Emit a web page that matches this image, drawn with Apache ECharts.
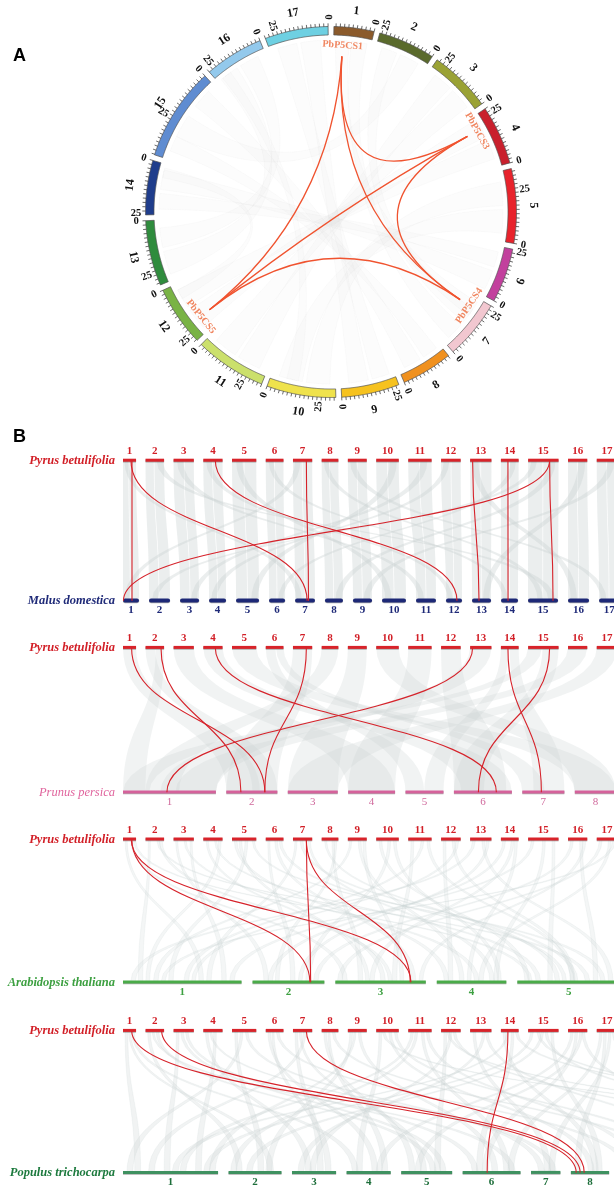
<!DOCTYPE html>
<html>
<head>
<meta charset="utf-8">
<script src="https://cdn.jsdelivr.net/npm/echarts@6/dist/echarts.min.js"></script>
<style>
  html, body { margin: 0; padding: 0; background: #ffffff; }
  #chart { width: 614px; height: 1187px; }
</style>
</head>
<body>
<div id="chart"></div>
<script>
// ---------------- Pyrus betulifolia genome (Mb) ----------------
const pyrusChrNames = ['1','2','3','4','5','6','7','8','9','10','11','12','13','14','15','16','17'];
const pyrusChrLen = [19, 27, 29.5, 28, 35.3, 25.8, 28, 24.3, 27.5, 32.8, 34, 28.5, 31, 25.8, 44.3, 28, 30];
const pyrusChrColors = ['#8b5a2b','#5a6a2c','#9aa235','#c9202d','#e8232c','#c2409d','#f2c7d0','#f0911f',
                        '#f6c21f','#efe24c','#cbe06c','#79b345','#2f8c3d','#1f3d8c','#5f8cd1','#93c9ec','#6ed0e2'];

// ---------------- Circos panel (A) ----------------
const circosGenes = ['PbP5CS1', 'PbP5CS3', 'PbP5CS4', 'PbP5CS5'];
const circosGeneChr = [1, 4, 7, 12];
const circosGenePos = [14.3, 20.7, 22.3, 21.0];
// segmental duplication pairs (indices into circosGenes)
const circosGenePairs = [[0, 1], [0, 2], [0, 3], [1, 2], [1, 3], [2, 3]];
// genome-wide collinear blocks: [chrA, startA, endA, chrB, startB, endB]
const circosBlocks = [
  [1,2,10,7,3,12],[2,4,14,15,20,32],[2,16,24,7,14,22],[3,3,14,11,4,16],[3,16,26,11,18,30],
  [4,4,14,12,3,13],[5,4,16,10,4,16],[5,18,30,10,18,30],[6,3,13,14,3,13],[6,15,23,14,15,23],
  [8,3,12,15,4,14],[8,14,22,15,32,40],[9,4,14,17,4,14],[9,16,25,17,16,26],[13,4,14,16,4,14],
  [13,16,28,16,16,26],[1,11,18,7,18,26],[4,16,26,12,15,26],[12,3,8,14,2,7],[10,8,14,16,20,25]
];
const circosTickLabels = [0, 25];

// ---------------- Synteny panels (B) ----------------
const malusChrLen = [23.3, 30.6, 27.7, 24.7, 33.5, 23.3, 29, 26.2, 27.7, 34.9, 29.1, 23.3, 27.7, 24.7, 43.7, 30.6, 30];
const prunusChrLen = [49.7, 27.3, 26.7, 25.1, 20.3, 31, 22.5, 22];
const arabidopsisChrLen = [31.2, 18.9, 23.8, 18.3, 27.0];
const populusChrLen = [48.5, 27, 22.5, 22.5, 26, 29.5, 15, 19.5, 13, 22.6, 18.5, 15.8, 16.3, 18.9, 15.1, 14.3, 16, 16.9, 16];

// P5CS orthologous pairs: [pyrusChr, pyrusPos, otherChr, otherPos]
const malusLinks = [[1,13.1,1,13.1],[1,11.6,7,17.5],[4,17.5,12,16],[7,19.5,7,19.6],
                    [13,3.6,13,10.2],[14,10.2,14,10.2],[15,31.3,15,36.4],[15,31.3,1,0.7]];
const prunusLinks = [[1,12.5,2,20.6],[2,22.5,2,7.8],[4,17.5,6,22.7],[7,19.5,2,20.6],
                     [13,3.6,1,23.5],[14,10.2,7,10.2],[15,31.3,6,13.1]];
const arabidopsisLinks = [[1,12.8,2,15.1],[1,12.0,3,19.9],[7,19.5,2,15.3],[7,19.5,3,19.7]];
const populusLinks = [[1,12.7,8,2.7],[2,23.5,8,4.7],[7,19.5,8,6.8],[14,10.2,6,12.5]];

// collinear blocks: [pyrusChr, start, end, otherChr, start, end]
const malusBlocks = [
  [1,0,8,1,0,10],[1,9,19,1,11,23.3],[2,0,12,2,0,14],[2,13,27,2,15,30.6],[3,0,15,3,0,14],[3,16,29.5,3,15,27.7],
  [4,0,13,4,0,12],[4,14,28,4,13,24.7],[5,0,17,5,0,16],[5,18,35.3,5,17,33.5],[6,0,12,6,0,11],[6,13,25.8,6,12,23.3],
  [7,0,13,7,0,14],[7,14,28,7,15,29],[8,0,11,8,0,12],[8,12,24.3,8,13,26.2],[9,0,13,9,0,13],[9,14,27.5,9,14,27.7],
  [10,0,16,10,0,17],[10,17,32.8,10,18,34.9],[11,0,16,11,0,14],[11,17,34,11,15,29.1],[12,0,14,12,0,11],[12,15,28.5,12,12,23.3],
  [13,0,15,13,0,13],[13,16,31,13,14,27.7],[14,0,12,14,0,12],[14,13,25.8,14,13,24.7],[15,0,21,15,0,21],[15,22,44.3,15,22,43.7],
  [16,0,13,16,0,15],[16,14,28,16,16,30.6],[17,0,14,17,0,14],[17,15,30,17,15,30],
  [1,2,8,7,2,10],[7,3,11,1,2,9],[4,4,12,12,3,10],[12,4,12,4,3,11],[3,5,14,11,4,12],[11,18,28,3,16,24],
  [5,6,15,10,5,14],[10,20,30,5,22,31],[9,3,12,17,3,11],[17,16,26,9,15,24],[13,3,12,16,4,13],[16,15,25,13,16,25],
  [6,4,11,14,3,10],[14,14,22,6,13,20],[2,16,25,15,30,40],[15,5,13,2,4,12],[8,3,10,15,14,22],[15,30,40,8,15,24]
];
const prunusBlocks = [
  [1,0,19,2,0,18],[2,0,14,2,14,27.3],[2,15,27,1,0,12],[3,0,29.5,4,0,25],[4,0,28,6,4,31],[5,0,35.3,8,0,22],
  [6,0,14,5,0,10],[6,15,25.8,7,0,12],[7,0,28,2,0,27.3],[8,0,24.3,1,12,30],[9,0,27.5,3,0,26.7],[10,0,32.8,8,0,22],
  [11,0,34,4,0,25.1],[12,0,28.5,6,0,28],[13,0,31,1,20,49.7],[14,0,12,5,10,20.3],[14,13,25.8,7,6,22.5],
  [15,0,20,1,0,14],[15,21,44.3,6,0,16],[16,0,28,1,28,49.7],[17,0,30,3,0,26.7]
];
const arabidopsisBlocks = [
  [1,3,6,1,20,21.2],[1,11,14,3,2,3.2],[2,4,7,1,4,5.2],[2,16,19,5,18,19.2],[3,3,6,2,3,4.2],[3,15,18,4,10,11.2],
  [3,24,27,1,26,27.2],[4,4,7,3,12,13.2],[4,16,19,5,5,6.2],[5,3,7,4,2,3.2],[5,19,23,1,12,13.2],[5,29,32,5,22,23.2],
  [6,3,6,2,10,11.2],[6,13,17,3,20,21.2],[7,3,6,1,22,23.2],[7,22,25,4,14,15.2],[8,4,7,5,10,11.2],[8,15,18,3,6,7.2],
  [9,3,6,1,8,9.2],[9,15,19,4,6,7.2],[10,4,8,5,2,3.2],[10,17,21,2,14,15.2],[11,4,8,3,15,16.2],[11,19,23,1,16,17.2],
  [12,3,7,4,3,4.2],[12,16,20,5,14,15.2],[13,4,8,1,2,3.2],[13,17,21,5,24,25.2],[14,3,7,2,4,5.2],[14,15,19,3,9,10.2],
  [15,5,9,1,28,29.2],[15,21,25,4,15,16.2],[15,35,39,5,8,9.2],[16,4,8,2,16,17.2],[16,17,21,5,20,21.2],
  [17,4,8,3,0.5,1.7],[17,17,21,4,11,12.2],[1,15,18,5,3,4],[2,20,24,3,14,15],[4,22,26,1,6,7],[6,19,23,5,12,13],
  [8,19,22,2,6,7],[9,22,26,3,17,18],[10,25,29,4,16,17],[11,27,31,5,14,15],[12,22,26,1,18,19],[13,24,28,2,12,13],
  [14,20,24,4,8,9],[16,22,26,3,22,23],[17,24,28,1,10,11],[7,10,14,5,15,16],[5,10,14,3,8,9]
];
const populusBlocks = [
  [1,3,7,1,6,9],[1,12,16,4,3,6],[2,3,7,2,4,7],[2,15,19,5,15,18],[3,4,8,1,21,24],[3,17,21,6,5,8],
  [4,3,7,3,7,10],[4,15,19,1,37,40],[5,4,8,2,15,18],[5,19,23,7,4,7],[6,3,7,4,13,16],[6,15,19,9,3,6],
  [7,3,7,3,13,16],[7,15,19,1,13,16],[8,3,7,5,4,7],[8,15,19,10,5,8],[9,3,7,2,19,22],[9,15,19,6,15,18],
  [10,4,8,4,5,8],[10,18,22,8,9,12],[11,4,8,1,29,32],[11,19,23,6,21,24],[12,4,8,5,17,20],[12,17,21,13,5,8],
  [13,4,8,7,7,10],[13,18,22,3,3,6],[14,3,7,8,11,14],[14,15,19,6,7,10],[15,4,8,1,41,44],[15,19,23,2,9,12],
  [15,33,37,8,13,16],[16,4,8,4,15,18],[16,17,21,5,7,10],[17,4,8,6,23,26],[17,17,21,7,9,12],
  [13,22,26,11,3,6],[15,24,28,14,4,7],[16,20,24,12,5,8],[17,22,26,15,6,9],[12,8,12,16,4,7],[10,8,12,17,5,8],
  [1,8,11,2,20,23],[2,9,12,6,24,27],[3,10,14,5,20,23],[4,9,12,7,10,13],[5,12,16,1,2,5],[6,9,12,3,17,20],
  [7,9,12,5,10,13],[8,9,12,4,18,21],[9,9,12,1,44,47],[11,10,14,2,1,4],[12,12,16,3,9,12],[14,9,12,1,25,28],
  [16,10,14,6,10,13],[17,10,14,8,2,5],[15,12,16,18,3,6],[14,20,24,19,4,7],[11,26,30,9,8,11],[10,26,30,10,14,17]
];

// ================= layout helpers =================
const SERIF = '"Liberation Serif", "DejaVu Serif", serif';

// ring: each chromosome is laid out clockwise, coordinates running from its clockwise end
const RING_GAP = 2.73;
const ringStart = [];
let ringAcc = RING_GAP / 2;
pyrusChrLen.forEach(L => { ringStart.push(ringAcc); ringAcc += L + RING_GAP; });
const RING_TOTAL = ringAcc - RING_GAP / 2;
function ringValue(chrIdx, pos) { return ringStart[chrIdx] + pyrusChrLen[chrIdx] - pos; }

const R_OUT = 185.5, R_IN = 177, R_TICK = 3.2, R_TICKLABEL = 195, R_CHRLABEL = 202.5;
const R_LINK = 156, R_GENELABEL = 167, R_BLOCK = 172;

function angleOf(api, pt) {
  const c = api.coord([0, 0]);
  return Math.atan2(pt[0] - c[0], c[1] - pt[1]) * 180 / Math.PI;
}
function readableRotation(phi) {
  phi = ((phi % 360) + 360) % 360;
  if (phi > 90 && phi <= 270) phi -= 180; else if (phi > 270) phi -= 360;
  return -phi * Math.PI / 180;
}
function arcPoints(api, r, v0, v1) {
  const n = Math.max(6, Math.ceil(Math.abs(v1 - v0) / 0.5));
  const pts = [];
  for (let k = 0; k <= n; k++) pts.push(api.coord([r, v0 + (v1 - v0) * k / n]));
  return pts;
}
function quadPoints(p, c, q, n) {
  const pts = [];
  for (let k = 0; k <= n; k++) {
    const t = k / n, u = 1 - t;
    pts.push([u * u * p[0] + 2 * u * t * c[0] + t * t * q[0], u * u * p[1] + 2 * u * t * c[1] + t * t * q[1]]);
  }
  return pts;
}

// linear rows of panel B (scale: axis units per Mb, gap in Mb)
const rows = {
  pyrus:       { lens: pyrusChrLen,       scale: 1,     gap: 13.8 },
  malus:       { lens: malusChrLen,       scale: 1,     gap: 14.56 },
  prunus:      { lens: prunusChrLen,      scale: 2.72,  gap: 5.6 },
  arabidopsis: { lens: arabidopsisChrLen, scale: 5.53,  gap: 2.9 },
  populus:     { lens: populusChrLen,     scale: 2.853, gap: 5.36 }
};
Object.keys(rows).forEach(k => {
  const r = rows[k]; r.off = []; let acc = 0;
  r.lens.forEach(L => { r.off.push(acc * r.scale); acc += L + r.gap; });
});
function rowX(key, chrIdx, pos) { const r = rows[key]; return r.off[chrIdx] + pos * r.scale; }

const speciesStyle = {
  pyrus:       { name: 'Pyrus betulifolia',    bar: '#d8232a', label: '#d21f27', num: '#d21f27', numFont: 'bold 11px ' + SERIF, nameFont: 'italic bold 12.5px ' + SERIF, h: 3 },
  malus:       { name: 'Malus domestica',      bar: '#1d2876', label: '#1f2a78', num: '#1f2a78', numFont: 'bold 11px ' + SERIF, nameFont: 'italic bold 12.5px ' + SERIF, h: 4 },
  prunus:      { name: 'Prunus persica',       bar: '#d5629b', label: '#e0649d', num: '#d0699c', numFont: '11px ' + SERIF,      nameFont: 'italic 12.5px ' + SERIF,      h: 3 },
  arabidopsis: { name: 'Arabidopsis thaliana', bar: '#4aab49', label: '#3da041', num: '#3da041', numFont: 'bold 11px ' + SERIF, nameFont: 'italic bold 12.5px ' + SERIF, h: 3 },
  populus:     { name: 'Populus trichocarpa',  bar: '#3f9160', label: '#1d7a3e', num: '#1d6e3a', numFont: 'bold 11px ' + SERIF, nameFont: 'italic bold 12.5px ' + SERIF, h: 3 }
};

const panels = [
  { other: 'malus',       links: malusLinks,       blocks: malusBlocks,       top: 460.5,  height: 140.2, fill: 'rgba(200,208,208,0.36)', stroke: null },
  { other: 'prunus',      links: prunusLinks,      blocks: prunusBlocks,      top: 647.7,  height: 144.6, fill: 'rgba(202,210,210,0.27)', stroke: null },
  { other: 'arabidopsis', links: arabidopsisLinks, blocks: arabidopsisBlocks, top: 839.3,  height: 143,   fill: 'rgba(205,212,212,0.22)', stroke: 'rgba(200,208,208,0.3)' },
  { other: 'populus',     links: populusLinks,     blocks: populusBlocks,     top: 1030.7, height: 142,   fill: 'rgba(205,212,212,0.28)', stroke: 'rgba(200,208,208,0.3)' }
];
const B_GRID_LEFT = 123, B_GRID_WIDTH = 480, B_AXIS_MAX = 698.7;

function verticalBezierPoints(p, q) {
  const ym = (p[1] + q[1]) / 2, out = [];
  for (let k = 0; k <= 24; k++) {
    const t = k / 24, u = 1 - t;
    out.push([
      u * u * u * p[0] + 3 * u * u * t * p[0] + 3 * u * t * t * q[0] + t * t * t * q[0],
      u * u * u * p[1] + 3 * u * u * t * ym + 3 * u * t * t * ym + t * t * t * q[1]
    ]);
  }
  return out;
}

// ================= series =================
const series = [];

// A: faint collinear ribbons
series.push({
  type: 'custom', coordinateSystem: 'polar', polarIndex: 0, silent: true, z: 1,
  data: circosBlocks,
  renderItem: function (params, api) {
    const ca = api.value(0) - 1, cb = api.value(3) - 1;
    const a1 = ringValue(ca, api.value(1)), a2 = ringValue(ca, api.value(2));
    const b1 = ringValue(cb, api.value(4)), b2 = ringValue(cb, api.value(5));
    const c = api.coord([0, 0]);
    const arcA = arcPoints(api, R_BLOCK, a1, a2);
    const arcB = arcPoints(api, R_BLOCK, b1, b2);
    const pts = arcA.concat(quadPoints(arcA[arcA.length - 1], c, arcB[0], 30))
                    .concat(arcB).concat(quadPoints(arcB[arcB.length - 1], c, arcA[0], 30));
    return { type: 'polygon', shape: { points: pts }, style: { fill: 'rgba(210,210,210,0.07)', stroke: 'rgba(205,205,205,0.12)', lineWidth: 0.6 } };
  }
});

// A: chromosome ring with ticks and labels
series.push({
  type: 'custom', coordinateSystem: 'polar', polarIndex: 0, silent: true, z: 2,
  data: pyrusChrLen.map((_, i) => [i]),
  renderItem: function (params, api) {
    const i = api.value(0);
    const L = pyrusChrLen[i];
    const v0 = ringStart[i], v1 = v0 + L;
    const outer = arcPoints(api, R_OUT, v0, v1);
    const inner = arcPoints(api, R_IN, v1, v0);
    const children = [{
      type: 'polygon', shape: { points: outer.concat(inner) },
      style: { fill: pyrusChrColors[i], stroke: '#505050', lineWidth: 0.7 }
    }];
    for (let p = 0; p <= L; p += 2) {
      const a = api.coord([R_OUT, v1 - p]);
      const b = api.coord([R_OUT + R_TICK, v1 - p]);
      children.push({ type: 'line', shape: { x1: a[0], y1: a[1], x2: b[0], y2: b[1] }, style: { stroke: '#2b2b2b', lineWidth: 0.7, fill: 'none' } });
    }
    circosTickLabels.forEach(p => {
      if (p > L) return;
      const pt = api.coord([R_TICKLABEL, v1 - p]);
      children.push({
        type: 'text', x: pt[0], y: pt[1], rotation: readableRotation(angleOf(api, pt) - 90),
        style: { text: String(p), font: 'bold 10.5px ' + SERIF, fill: '#111', align: 'center', verticalAlign: 'middle' }
      });
    });
    const m = api.coord([R_CHRLABEL, (v0 + v1) / 2]);
    children.push({
      type: 'text', x: m[0], y: m[1], rotation: readableRotation(angleOf(api, m)),
      style: { text: pyrusChrNames[i], font: 'bold 12px ' + SERIF, fill: '#111', align: 'center', verticalAlign: 'middle' }
    });
    return { type: 'group', children: children };
  }
});

// A: duplicated P5CS gene pairs
series.push({
  type: 'custom', coordinateSystem: 'polar', polarIndex: 0, silent: true, z: 3,
  data: circosGenePairs,
  renderItem: function (params, api) {
    const g1 = api.value(0), g2 = api.value(1);
    const p = api.coord([R_LINK, ringValue(circosGeneChr[g1] - 1, circosGenePos[g1])]);
    const q = api.coord([R_LINK, ringValue(circosGeneChr[g2] - 1, circosGenePos[g2])]);
    const c = api.coord([0, 0]);
    return { type: 'bezierCurve', shape: { x1: p[0], y1: p[1], x2: q[0], y2: q[1], cpx1: c[0], cpy1: c[1] },
             style: { stroke: '#f0532f', lineWidth: 1.3, fill: 'none' } };
  }
});

// A: gene names
series.push({
  type: 'custom', coordinateSystem: 'polar', polarIndex: 0, silent: true, z: 4,
  data: circosGenes.map((_, i) => [i]),
  renderItem: function (params, api) {
    const g = api.value(0);
    const pt = api.coord([R_GENELABEL, ringValue(circosGeneChr[g] - 1, circosGenePos[g])]);
    return { type: 'text', x: pt[0], y: pt[1], rotation: readableRotation(angleOf(api, pt)),
             style: { text: circosGenes[g], font: 'bold 10px ' + SERIF, fill: '#f08660', align: 'center', verticalAlign: 'middle' } };
  }
});

// B: synteny panels
panels.forEach((pnl, gi) => {
  // background collinear blocks
  series.push({
    type: 'custom', xAxisIndex: gi, yAxisIndex: gi, silent: true, z: 1,
    data: pnl.blocks,
    renderItem: function (params, api) {
      const tc = api.value(0) - 1, bc = api.value(3) - 1;
      const a1 = api.coord([rowX('pyrus', tc, api.value(1)), 1]);
      const a2 = api.coord([rowX('pyrus', tc, api.value(2)), 1]);
      const b1 = api.coord([rowX(pnl.other, bc, api.value(4)), 0]);
      const b2 = api.coord([rowX(pnl.other, bc, api.value(5)), 0]);
      const pts = verticalBezierPoints(a1, b1).concat(verticalBezierPoints(b2, a2));
      const style = { fill: pnl.fill };
      if (pnl.stroke) { style.stroke = pnl.stroke; style.lineWidth = 0.6; }
      return { type: 'polygon', shape: { points: pts }, style: style };
    }
  });
  // chromosome rows: top (y = 1) Pyrus, bottom (y = 0) other species
  [['pyrus', 1, -9.5], [pnl.other, 0, 9.5]].forEach(([key, yVal, numDy]) => {
    const st = speciesStyle[key];
    series.push({
      type: 'custom', xAxisIndex: gi, yAxisIndex: gi, silent: true, z: 3,
      data: rows[key].lens.map((_, i) => [i]),
      renderItem: function (params, api) {
        const i = api.value(0);
        const a = api.coord([rowX(key, i, 0), yVal]);
        const b = api.coord([rowX(key, i, rows[key].lens[i]), yVal]);
        const h = st.h;
        const children = [
          { type: 'rect', shape: { x: a[0], y: a[1] - h / 2 + 0.5, width: b[0] - a[0], height: h, r: key === 'malus' ? 2 : 0 },
            style: { fill: 'rgba(70,70,70,0.45)' } },
          { type: 'rect', shape: { x: a[0], y: a[1] - h / 2 - 0.3, width: b[0] - a[0], height: h, r: key === 'malus' ? 2 : 0 },
            style: { fill: st.bar } },
          { type: 'text', x: (a[0] + b[0]) / 2, y: a[1] + numDy,
            style: { text: String(i + 1), font: st.numFont, fill: st.num, align: 'center', verticalAlign: 'middle' } }
        ];
        if (i === 0) {
          children.push({ type: 'text', x: a[0] - 8, y: a[1],
            style: { text: st.name, font: st.nameFont, fill: st.label, align: 'right', verticalAlign: 'middle' } });
        }
        return { type: 'group', children: children };
      }
    });
  });
  // P5CS orthologous links
  series.push({
    type: 'custom', xAxisIndex: gi, yAxisIndex: gi, silent: true, z: 4,
    data: pnl.links,
    renderItem: function (params, api) {
      const p = api.coord([rowX('pyrus', api.value(0) - 1, api.value(1)), 1]);
      const q = api.coord([rowX(pnl.other, api.value(2) - 1, api.value(3)), 0]);
      const ym = (p[1] + q[1]) / 2;
      return { type: 'bezierCurve',
               shape: { x1: p[0], y1: p[1], x2: q[0], y2: q[1], cpx1: p[0], cpy1: ym, cpx2: q[0], cpy2: ym },
               style: { stroke: '#d6222a', lineWidth: 1.1, fill: 'none' } };
    }
  });
});

const option = {
  animation: false,
  backgroundColor: '#ffffff',
  polar: { center: [331, 212], radius: R_OUT },
  angleAxis: { type: 'value', min: 0, max: RING_TOTAL, startAngle: 90, clockwise: true, show: false },
  radiusAxis: { type: 'value', min: 0, max: R_OUT, show: false },
  grid: panels.map(p => ({ left: B_GRID_LEFT, width: B_GRID_WIDTH, top: p.top, height: p.height, outerBoundsMode: 'none' })),
  xAxis: panels.map((p, i) => ({ gridIndex: i, type: 'value', min: 0, max: B_AXIS_MAX, show: false })),
  yAxis: panels.map((p, i) => ({ gridIndex: i, type: 'value', min: 0, max: 1, show: false })),
  graphic: [
    { type: 'text', x: 19.5, y: 56, style: { text: 'A', font: 'bold 18px "Liberation Sans", Arial, sans-serif', fill: '#000', align: 'center', verticalAlign: 'middle' } },
    { type: 'text', x: 19.5, y: 437, style: { text: 'B', font: 'bold 18px "Liberation Sans", Arial, sans-serif', fill: '#000', align: 'center', verticalAlign: 'middle' } }
  ],
  series: series
};

const chart = echarts.init(document.getElementById('chart'), null, { renderer: 'canvas' });
chart.setOption(option);
</script>
</body>
</html>
